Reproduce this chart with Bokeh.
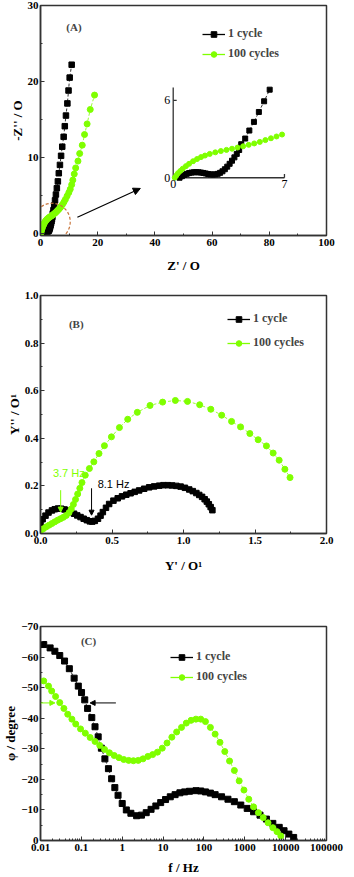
from bokeh.plotting import figure
from bokeh.layouts import column
from bokeh.models import (Range1d, Legend, LegendItem, Arrow, NormalHead, Label,
                          SingleIntervalTicker, LogTicker, CustomJSTickFormatter,
                          NumeralTickFormatter)
from bokeh.core.properties import value
from bokeh.embed import file_html
from bokeh.resources import INLINE

# ---------------- data ----------------
# Panel A : Nyquist plot (Z' , -Z'')
a1_zre = [0.40, 0.55, 0.70, 0.85, 1.00, 1.15, 1.30, 1.45, 1.60, 1.75, 1.90, 2.05, 2.20, 2.35, 2.50,
          2.65, 2.80, 2.95, 3.10, 3.25, 3.40, 3.55, 3.70, 3.85, 4.00, 4.15, 4.28, 4.53, 4.79, 5.08,
          5.39, 5.72, 6.07, 6.40, 6.80, 7.20, 7.60, 8.10, 8.50, 8.90, 9.40, 9.80, 10.20, 10.90]
a1_zim = [0.00, 0.12, 0.22, 0.30, 0.36, 0.40, 0.42, 0.43, 0.42, 0.40, 0.37, 0.33, 0.29, 0.26, 0.25,
          0.26, 0.30, 0.38, 0.50, 0.66, 0.86, 1.08, 1.32, 1.58, 1.85, 2.15, 2.60, 3.04, 3.66, 4.33,
          5.10, 5.93, 6.83, 7.90, 9.00, 10.20, 11.40, 12.70, 14.10, 15.50, 17.10, 18.80, 20.50, 22.20]
a100_zre = [0.10, 0.20, 0.30, 0.45, 0.60, 0.80, 1.00, 1.25, 1.50, 1.75, 2.00, 2.30, 2.65, 3.00, 3.35,
            3.70, 4.05, 4.40, 4.75, 5.10, 5.45, 5.80, 6.15, 6.50, 6.85, 7.20, 7.70, 8.20, 8.70, 9.30,
            9.90, 10.40, 10.90, 11.30, 11.80, 12.30, 13.10, 13.70, 14.60, 15.40, 16.30, 17.40, 18.90]
a100_zim = [0.00, 0.18, 0.35, 0.53, 0.70, 0.90, 1.08, 1.28, 1.45, 1.60, 1.72, 1.85, 1.97, 2.07, 2.16,
            2.25, 2.34, 2.44, 2.55, 2.66, 2.78, 2.92, 3.06, 3.20, 3.35, 3.52, 3.80, 4.10, 4.45, 4.90,
            5.35, 5.80, 6.40, 7.00, 7.80, 8.60, 9.50, 10.50, 11.60, 13.00, 14.40, 16.30, 18.20]

# Panel B : admittance plot (Y', Y'')
b1_yre = [0.000, 0.015, 0.035, 0.056, 0.080, 0.100, 0.123, 0.145, 0.168, 0.190, 0.212, 0.235, 0.257,
          0.280, 0.302, 0.324, 0.345, 0.362, 0.380, 0.402, 0.420, 0.436, 0.458, 0.480, 0.510, 0.540,
          0.570, 0.600, 0.630, 0.659, 0.690, 0.725, 0.760, 0.795, 0.830, 0.860, 0.890, 0.920, 0.950,
          0.980, 1.010, 1.040, 1.065, 1.090, 1.110, 1.130, 1.148, 1.163, 1.177, 1.190, 1.202]
b1_yim = [0.045, 0.060, 0.075, 0.088, 0.097, 0.102, 0.105, 0.104, 0.101, 0.097, 0.090, 0.083, 0.076,
          0.069, 0.062, 0.056, 0.051, 0.050, 0.053, 0.062, 0.075, 0.090, 0.108, 0.124, 0.138, 0.148,
          0.156, 0.163, 0.169, 0.175, 0.181, 0.188, 0.194, 0.198, 0.201, 0.203, 0.203, 0.202, 0.200,
          0.197, 0.192, 0.185, 0.178, 0.170, 0.162, 0.154, 0.144, 0.134, 0.123, 0.111, 0.098]
b100_yre = [0.000, 0.020, 0.040, 0.060, 0.080, 0.100, 0.120, 0.140, 0.160, 0.180, 0.200, 0.215, 0.230,
            0.245, 0.260, 0.275, 0.290, 0.313, 0.342, 0.373, 0.409, 0.447, 0.496, 0.552, 0.610, 0.677,
            0.766, 0.854, 0.943, 1.028, 1.113, 1.191, 1.267, 1.336, 1.399, 1.464, 1.522, 1.580, 1.627,
            1.669, 1.709, 1.745]
b100_yim = [0.012, 0.020, 0.028, 0.035, 0.042, 0.049, 0.056, 0.062, 0.068, 0.076, 0.088, 0.103, 0.122,
            0.143, 0.166, 0.190, 0.214, 0.245, 0.273, 0.301, 0.336, 0.369, 0.406, 0.445, 0.480, 0.509,
            0.538, 0.552, 0.559, 0.555, 0.541, 0.522, 0.497, 0.471, 0.448, 0.420, 0.394, 0.368, 0.338,
            0.308, 0.270, 0.235]

# Panel C : Bode phase plot (f, phase)
c1_f = [0.0120, 0.0172, 0.0225, 0.0296, 0.0388, 0.0508, 0.0666, 0.0842, 0.101, 0.121, 0.142, 0.180,
        0.216, 0.258, 0.309, 0.377, 0.460, 0.551, 0.660, 0.791, 1.0, 1.26, 1.63, 2.25, 2.96, 3.87, 5.08,
        6.66, 8.74, 11.5, 15.0, 19.7, 25.8, 33.8, 44.4, 63.7, 83.5, 109, 144, 188, 270, 387, 556, 798,
        1145, 1643, 2358, 3383, 4855, 6967, 9136, 11980, 15710]
c1_phase = [-64.1, -63.0, -61.9, -60.5, -58.7, -56.2, -53.1, -50.5, -48.4, -46.0, -43.2, -40.2, -37.2,
            -33.9, -30.2, -26.7, -23.5, -20.2, -17.3, -14.8, -12.1, -10.0, -8.9, -8.1, -8.3, -9.1, -10.2,
            -11.3, -12.4, -13.4, -14.3, -15.0, -15.6, -15.9, -16.1, -16.3, -16.2, -15.9, -15.5, -15.0,
            -14.3, -13.5, -12.7, -11.6, -10.5, -9.4, -8.3, -7.0, -5.6, -4.3, -3.2, -2.1, -1.0]
c100_f = [0.0120, 0.0157, 0.0188, 0.0234, 0.0296, 0.0374, 0.0464, 0.0587, 0.0729, 0.0955, 0.125, 0.164,
          0.216, 0.282, 0.370, 0.486, 0.637, 0.835, 1.09, 1.44, 1.88, 2.47, 3.23, 4.24, 5.56, 7.29, 9.56,
          12.5, 16.4, 21.5, 28.3, 37.0, 48.5, 63.7, 83.5, 109, 144, 188, 247, 324, 424, 556, 729, 955,
          1253, 1643, 2154, 2825, 3704, 4855, 6142, 7625]
c100_phase = [-52.2, -50.5, -48.9, -47.1, -45.1, -43.2, -41.3, -39.7, -38.1, -36.5, -35.1, -33.7, -32.4,
              -31.1, -29.8, -28.7, -27.8, -27.1, -26.5, -26.2, -26.1, -26.2, -26.7, -27.5, -28.1, -28.9,
              -30.2, -31.9, -33.8, -35.5, -37.0, -38.4, -39.3, -39.7, -39.7, -38.9, -37.0, -34.8, -32.1,
              -29.1, -26.0, -22.9, -19.5, -16.5, -13.5, -11.0, -9.1, -7.5, -5.8, -4.2, -2.9, -1.5]

labels = ["1 cycle", "100 cycles"]

# ---------------- style ----------------
SERIF = "Liberation Serif"
SANS = "Liberation Sans"
BLACK = "#000000"
GREEN = "#7fff00"
FRAME = "#333333"


def style(p, tick_size="11px", title_size="13px"):
    p.outline_line_color = FRAME
    p.outline_line_width = 1.5
    p.xgrid.visible = False
    p.ygrid.visible = False
    p.background_fill_color = "white"
    p.border_fill_color = "white"
    for ax in (p.xaxis[0], p.yaxis[0]):
        ax.axis_line_color = FRAME
        ax.axis_line_width = 1.5
        ax.major_tick_in = 4
        ax.major_tick_out = 0
        ax.minor_tick_in = 2
        ax.minor_tick_out = 0
        ax.major_tick_line_color = FRAME
        ax.minor_tick_line_color = FRAME
        ax.major_label_text_font = SERIF
        ax.major_label_text_font_style = "bold"
        ax.major_label_text_font_size = tick_size
        ax.major_label_text_color = "black"
        ax.major_label_standoff = 3
        ax.axis_label_text_font = SERIF
        ax.axis_label_text_font_style = "bold"
        ax.axis_label_text_font_size = title_size
        ax.axis_label_text_color = "black"
    p.yaxis[0].major_label_standoff = 2
    p.yaxis[0].axis_label_standoff = 0
    p.xaxis[0].axis_label_standoff = 9


def series(p, x, y, color, marker, size, **kw):
    ln = p.line(x, y, line_color=color, line_width=0.8, line_dash="3 2", **kw)
    sc = p.scatter(x, y, marker=marker, size=size, fill_color=color, line_color=color, **kw)
    return ln, sc


def legend(p, items_r, loc, spacing):
    items = []
    for lab, (dummy, sc) in zip(labels, items_r):
        items.append(LegendItem(label=lab, renderers=[dummy, sc]))
    lg = Legend(items=items, location=loc, orientation="vertical", padding=0, margin=0,
                spacing=spacing, glyph_width=23, glyph_height=14, label_height=14,
                label_standoff=3, label_text_font=SERIF, label_text_font_style="bold",
                label_text_font_size="12px", border_line_alpha=0, background_fill_alpha=0)
    p.add_layout(lg)


def dummy(p, color, xs, ys):
    # solid line used only as the legend's line glyph (drawn outside the visible range)
    return p.line(x=xs, y=ys, line_color=color, line_width=1.3)


# ---------------- Panel A ----------------
pA = figure(width=354, height=290, x_range=Range1d(0, 100), y_range=Range1d(-0.3, 30),
            min_border_left=35, min_border_right=28, min_border_top=5, min_border_bottom=55,
            output_backend="svg", toolbar_location=None)
style(pA)
pA.xaxis.ticker = SingleIntervalTicker(interval=20, num_minor_ticks=2)
pA.yaxis.ticker = SingleIntervalTicker(interval=10, num_minor_ticks=2)
pA.xaxis.axis_label = "Z' / O"
pA.yaxis.axis_label = "-Z'' / O"

la1, sa1 = series(pA, a1_zre, a1_zim, BLACK, "square", 5.5)
la2, sa2 = series(pA, a100_zre, a100_zim, GREEN, "circle", 6)

# dashed circle marking the zoomed region and arrow to the inset
pA.ellipse(x=[4.0], y=[1.5], width=[12.8], height=[4.9], fill_alpha=0,
           line_color="#c8773f", line_dash="3 2", line_width=1.2)
pA.add_layout(Arrow(end=NormalHead(size=7, fill_color=BLACK, line_color=BLACK),
                    x_start=12.9, y_start=2.1, x_end=34.9, y_end=5.9,
                    line_color=BLACK, line_width=1.2))

# inset (zoom of the 0..7 region) placed with extra ranges
INSET_X = (46.4, 85.3)   # inset box in main-axis units
INSET_Y = (7.31, 19.2)
LIM = 7.0
sx = LIM / (INSET_X[1] - INSET_X[0])
sy = LIM / (INSET_Y[1] - INSET_Y[0])
ix0 = -(INSET_X[0] - 0) * sx
iy0 = -(INSET_Y[0] - (-0.3)) * sy
pA.extra_x_ranges = {"ins": Range1d(ix0, ix0 + 100 * sx)}
pA.extra_y_ranges = {"ins": Range1d(iy0, iy0 + 30.3 * sy)}
ik = dict(x_range_name="ins", y_range_name="ins")

i1 = [(x, y) for x, y in zip(a1_zre, a1_zim) if x <= LIM and y <= LIM]
i2 = [(x, y) for x, y in zip(a100_zre, a100_zim) if x <= LIM and y <= LIM]
pA.segment(x0=[0, 0, 7, 0], y0=[0, 0, 0, 6], x1=[7, 0, 7, 0.22], y1=[0, 7, 0.28, 6],
           line_color=FRAME, line_width=1.3, **ik)
series(pA, [v[0] for v in i1], [v[1] for v in i1], BLACK, "square", 5, **ik)
series(pA, [v[0] for v in i2], [v[1] for v in i2], GREEN, "circle", 5, **ik)
pA.text(x=[0, 0], y=[0, 6], text=["0", "6"], x_offset=-3, text_align="right",
        text_baseline="middle", text_font=value(SERIF), text_font_size="12px",
        text_color=BLACK, **ik)
pA.text(x=[0, 7], y=[0, 0], text=["0", "7"], y_offset=2, text_align="center",
        text_baseline="top", text_font=value(SERIF), text_font_size="12px",
        text_color=BLACK, **ik)

pA.add_layout(Label(x=11.7, y=27.2, text="(A)", text_font=SERIF, text_font_style="bold",
                    text_font_size="11px", text_align="center", text_baseline="middle"))
legend(pA, [(dummy(pA, BLACK, [-60, -50], [-60, -50]), sa1),
            (dummy(pA, GREEN, [-60, -50], [-60, -50]), sa2)], (162, 174), 5)

# ---------------- Panel B ----------------
pB = figure(width=354, height=290, x_range=Range1d(0, 2), y_range=Range1d(0, 1),
            min_border_left=35, min_border_right=20, min_border_top=5, min_border_bottom=47,
            output_backend="svg", toolbar_location=None)
style(pB)
pB.xaxis.ticker = SingleIntervalTicker(interval=0.5, num_minor_ticks=2)
pB.yaxis.ticker = SingleIntervalTicker(interval=0.2, num_minor_ticks=2)
pB.xaxis.formatter = NumeralTickFormatter(format="0.0")
pB.yaxis.formatter = NumeralTickFormatter(format="0.0")
pB.xaxis.axis_label = "Y' / O\u00b9"
pB.yaxis.axis_label = "Y'' / O\u00b9"
pB.xaxis[0].axis_label_standoff = 11

lb1, sb1 = series(pB, b1_yre, b1_yim, BLACK, "square", 5.5)
lb2, sb2 = series(pB, b100_yre, b100_yim, GREEN, "circle", 6)

pB.add_layout(Arrow(end=NormalHead(size=5, fill_color=GREEN, line_color=GREEN),
                    x_start=0.141, y_start=0.182, x_end=0.141, y_end=0.09,
                    line_color=GREEN, line_width=1))
pB.add_layout(Arrow(end=NormalHead(size=5, fill_color=BLACK, line_color=BLACK),
                    x_start=0.357, y_start=0.19, x_end=0.357, y_end=0.077,
                    line_color=BLACK, line_width=1))
pB.add_layout(Label(x=0.087, y=0.253, text="3.7 Hz", text_font=SANS, text_font_size="11px",
                    text_color=GREEN, text_align="left", text_baseline="middle"))
pB.add_layout(Label(x=0.40, y=0.21, text="8.1 Hz", text_font=SANS, text_font_size="11px",
                    text_color=BLACK, text_align="left", text_baseline="middle"))
pB.add_layout(Label(x=0.25, y=0.881, text="(B)", text_font=SERIF, text_font_style="bold",
                    text_font_size="11px", text_align="center", text_baseline="middle"))
legend(pB, [(dummy(pB, BLACK, [-5, -4], [-5, -4]), sb1),
            (dummy(pB, GREEN, [-5, -4], [-5, -4]), sb2)], (187, 183), 9)

# ---------------- Panel C ----------------
pC = figure(width=354, height=297, x_axis_type="log", x_range=Range1d(0.01, 100000),
            y_range=Range1d(0, -70),
            min_border_left=38, min_border_right=19, min_border_top=46, min_border_bottom=35,
            output_backend="svg", toolbar_location=None)
style(pC, tick_size="11px")
pC.xaxis.ticker = LogTicker(desired_num_ticks=8, num_minor_ticks=10)
pC.xaxis.formatter = CustomJSTickFormatter(code="return tick.toString()")
pC.yaxis.ticker = SingleIntervalTicker(interval=10, num_minor_ticks=2)
pC.xaxis.axis_label = "f / Hz"
pC.yaxis.axis_label = "\u03c6 / degree"
pC.xaxis[0].axis_label_standoff = 6

lc1, sc1 = series(pC, c1_f, c1_phase, BLACK, "square", 6)
lc2, sc2 = series(pC, c100_f, c100_phase, GREEN, "circle", 6)

pC.add_layout(Arrow(end=NormalHead(size=5, fill_color=BLACK, line_color=BLACK),
                    x_start=0.70, y_start=-45, x_end=0.164, y_end=-45,
                    line_color=BLACK, line_width=1))
pC.add_layout(Arrow(end=NormalHead(size=5, fill_color=GREEN, line_color=GREEN),
                    x_start=0.0101, y_start=-45, x_end=0.0225, y_end=-45,
                    line_color=GREEN, line_width=1))
pC.add_layout(Label(x=0.15, y=-65.2, text="(C)", text_font=SERIF, text_font_style="bold",
                    text_font_size="11px", text_align="center", text_baseline="middle"))
legend(pC, [(dummy(pC, BLACK, [1e-6, 2e-6], [100, 101]), sc1),
            (dummy(pC, GREEN, [1e-6, 2e-6], [100, 101]), sc2)], (130, 156), 5)

layout = column(pA, pB, pC)
open("out.html", "w").write(file_html(layout, INLINE))
